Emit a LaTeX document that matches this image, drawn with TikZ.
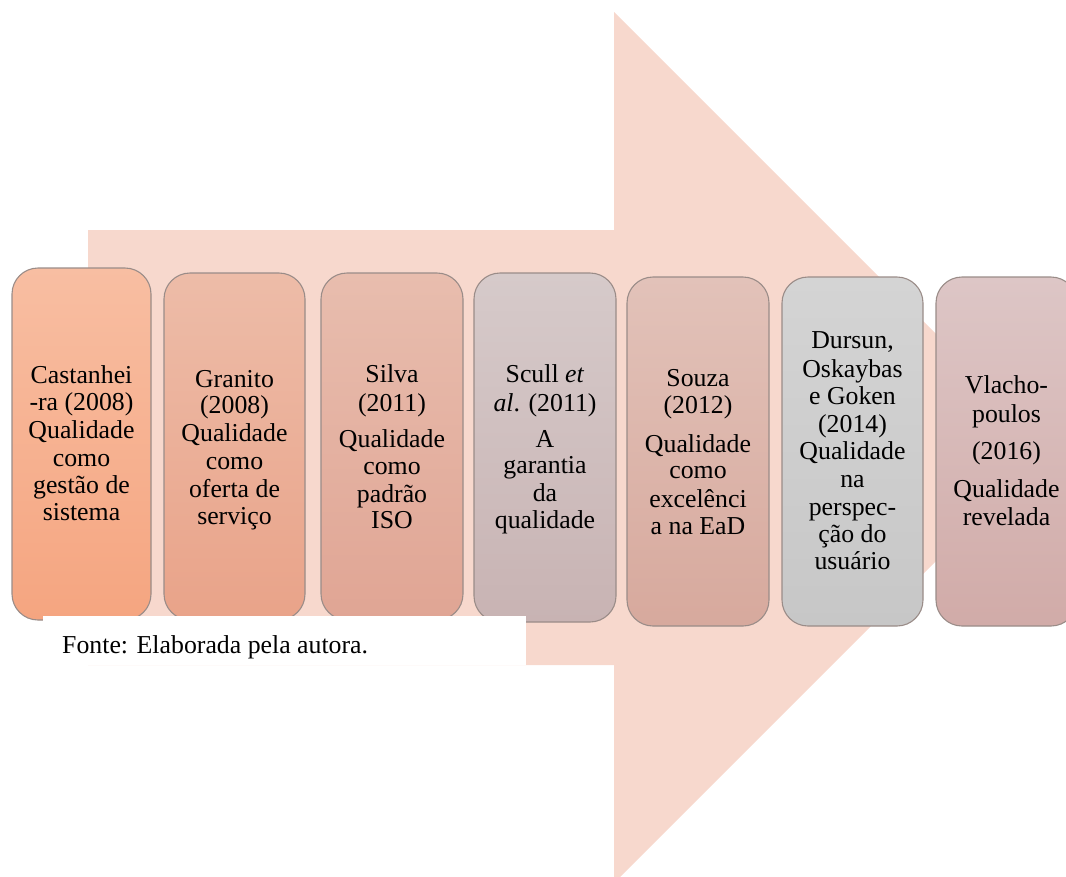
\documentclass[tikz,border=0pt]{standalone}
\usepackage{fontspec}
\setmainfont{Liberation Serif}
\begin{document}
\begin{tikzpicture}[x=1pt,y=-1pt,
  card/.style={draw=cardline, line width=1.1pt, rounded corners=26pt, inner sep=0pt},
  line/.style={anchor=base, inner sep=0pt, font=\fontsize{25.8}{27.5}\selectfont}]
\definecolor{arrowfill}{HTML}{F7D8CD}
\definecolor{cardline}{HTML}{9A8C88}
\useasboundingbox (0,0) rectangle (1066,876);

% big background arrow
\fill[arrowfill] (88,230) -- (614,230) -- (614,12) -- (1049.5,447.5) -- (614,883)
  -- (614,665) -- (88,665) -- cycle;

% cards: name / left / top / right / bottom / top colour / bottom colour
\foreach \n/\l/\t/\r/\b/\ct/\cb in {
  c1/12/268/151/620/F8BEA2/F5A580,
  c2/164/273/305/620/EDBCA8/E9A389,
  c3/321/273/463/620/E8BDAE/E0A594,
  c4/474/273/616/622/D6CACA/C8B3B3,
  c5/627/277/769/626/E2C2B9/D7A99D,
  c6/782/277/923/626/D4D4D4/C7C7C7,
  c7/936/277/1077/626/DDC6C6/D1ABA8}{
  \definecolor{ctop}{HTML}{\ct}\definecolor{cbot}{HTML}{\cb}
  \path[card, top color=ctop, bottom color=cbot] (\l,\t) rectangle (\r,\b);
}

% card texts, one node per line at its baseline
\foreach \y/\s [count=\i] in {383/Castanhei, 410/-ra (2008), 438/Qualidade, 466/como, 493/gestão de, 520/sistema}
  \node[line] (t1-\i) at (81.5,\y) {\s};
\foreach \y/\s [count=\i] in {387/Granito, 413/(2008), 441/Qualidade, 469/como, 497/oferta de, 524/serviço}
  \node[line] (t2-\i) at (234.5,\y) {\s};
\foreach \y/\s [count=\i] in {382/Silva, 411/(2011), 447/Qualidade, 474/como, 502/padrão, 528/ISO}
  \node[line] (t3-\i) at (392,\y) {\s};
\foreach \y/\s [count=\i] in {382/Scull \textit{et}, 411/\textit{al}. (2011), 447/A, 473/garantia, 501/da, 528/qualidade}
  \node[line] (t4-\i) at (545,\y) {\s};
\foreach \y/\s [count=\i] in {386/Souza, 413/(2012), 452/Qualidade, 478/como, 507/excelênci, 534/a na EaD}
  \node[line] (t5-\i) at (698,\y) {\s};
\foreach \y/\s [count=\i] in {348/{Dursun,}, 377/Oskaybas, 404/e Goken, 432/(2014), 459/Qualidade, 487/na, 515/perspec-, 542/ção do, 569/usuário}
  \node[line] (t6-\i) at (852.5,\y) {\s};
\foreach \y/\s [count=\i] in {393/Vlacho-, 422/poulos, 459/(2016), 497/Qualidade, 525/revelada}
  \node[line] (t7-\i) at (1006.5,\y) {\s};

% source note on a white strip
\fill[white] (43,616) rectangle (526,665);
\node[line, anchor=base west] (fonte) at (62,653) {Fonte: Elaborada pela autora.};
\end{tikzpicture}
\end{document}
